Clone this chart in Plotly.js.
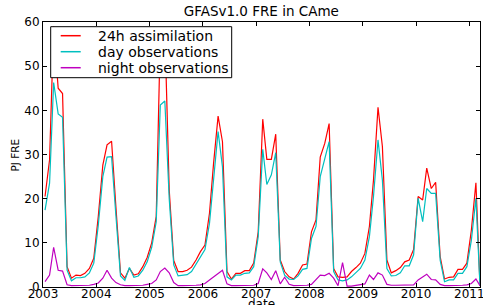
<!DOCTYPE html>
<html>
<head>
<meta charset="utf-8">
<script src="https://cdn.plot.ly/plotly-3.0.1.min.js"></script>
<style>html,body{margin:0;padding:0;background:#fff;}#chart{width:483px;height:305px;}</style>
</head>
<body>
<div id="chart"></div>
<script>
// Monthly series, Jan 2003 .. Mar 2011
const startYear = 2003;
const monthCount = 99;
const yearTicks = [2003, 2004, 2005, 2006, 2007, 2008, 2009, 2010, 2011];

const assimilation24h = [
  20.5, 28.8, 59.0, 45.0, 43.8, 4.6, 2.0, 2.7, 2.6, 3.1, 4.2, 6.5,
  16.0, 27.6, 32.2, 33.0, 18.0, 3.2, 2.0, 4.2, 2.7, 3.0, 4.6, 6.7,
  10.0, 16.0, 57.0, 58.5, 22.0, 6.0, 3.5, 3.5, 3.8, 4.5, 6.1, 8.0,
  9.5, 16.7, 28.0, 38.7, 32.9, 3.5, 1.8, 3.1, 3.1, 3.7, 3.7, 5.4,
  12.5, 38.0, 28.9, 28.9, 34.6, 6.1, 3.5, 2.3, 1.8, 3.1, 5.0, 5.2,
  12.5, 15.2, 29.4, 32.5, 37.0, 4.2, 2.3, 2.2, 2.3, 3.5, 4.4, 5.4,
  7.6, 13.7, 24.2, 40.7, 31.8, 6.1, 3.2, 3.7, 4.4, 5.7, 6.1, 8.5,
  20.5, 19.7, 26.9, 22.3, 23.7, 6.9, 1.8, 2.2, 2.3, 4.0, 4.0, 5.4,
  12.9, 23.6, 0.3
];
const dayObservations = [
  17.4, 23.5, 46.3, 39.2, 38.4, 3.8, 1.4, 2.1, 2.1, 2.3, 3.2, 5.4,
  14.0, 25.0, 29.4, 29.5, 16.0, 2.5, 1.5, 4.4, 2.2, 2.5, 3.8, 5.7,
  9.0, 14.8, 41.2, 42.1, 20.0, 5.0, 2.5, 2.6, 2.8, 3.5, 5.2, 7.0,
  8.5, 14.4, 24.2, 35.2, 27.2, 2.3, 1.6, 2.7, 2.7, 3.1, 3.2, 4.6,
  11.4, 31.2, 23.2, 25.4, 30.4, 5.7, 2.7, 1.8, 1.7, 2.5, 4.0, 4.2,
  11.0, 13.7, 25.0, 29.1, 32.9, 3.5, 1.6, 1.4, 1.6, 2.3, 3.2, 4.2,
  6.1, 11.4, 20.5, 33.3, 24.2, 4.2, 2.5, 2.6, 3.2, 4.8, 4.8, 7.3,
  20.1, 14.8, 22.3, 21.2, 21.2, 6.1, 1.2, 1.6, 1.6, 3.1, 3.1, 4.6,
  10.6, 20.1, 0.2
];
const nightObservations = [
  1.2, 2.7, 9.0, 3.8, 3.6, 0.5, 0.3, 0.3, 0.3, 0.3, 0.4, 0.6,
  0.9, 2.0, 3.8, 2.0, 1.0, 0.5, 0.3, 0.3, 0.3, 0.3, 0.4, 0.6,
  0.8, 1.6, 3.5, 4.3, 3.2, 1.0, 0.3, 0.3, 0.3, 0.3, 0.4, 0.5,
  0.8, 1.6, 2.3, 3.2, 3.8, 0.7, 0.3, 0.3, 0.3, 0.3, 0.3, 0.4,
  0.8, 4.1, 3.2, 1.7, 3.7, 0.7, 2.2, 0.6, 0.3, 0.3, 0.3, 0.4,
  0.6, 1.6, 2.7, 2.6, 3.1, 2.0, 0.3, 5.5, 0.2, 0.2, 0.4, 0.5,
  0.7, 2.7, 1.7, 3.2, 2.7, 0.6, 0.4, 0.4, 0.4, 0.4, 0.4, 0.5,
  1.6, 2.2, 2.9, 1.7, 1.6, 0.6, 0.3, 0.3, 0.3, 0.4, 0.4, 0.5,
  0.8, 1.8, 0.3
];
const seriesNames = ['24h assimilation', 'day observations', 'night observations'];
const seriesColors = ['#ff0000', '#00bfbf', '#bf00bf'];

// mid-month date labels
const dates = [];
for (let k = 0; k < monthCount; k++) {
  const y = startYear + Math.floor(k / 12);
  const m = (k % 12) + 1;
  dates.push(y + '-' + String(m).padStart(2, '0') + '-15');
}

const allSeries = [assimilation24h, dayObservations, nightObservations];
const traces = allSeries.map((vals, s) => ({
  x: dates, y: vals, type: 'scatter', mode: 'lines',
  name: seriesNames[s],
  line: {color: seriesColors[s], width: 1.2}
}));

const axisCommon = {
  showline: true, linecolor: '#000', linewidth: 1, mirror: 'ticks',
  ticks: 'inside', ticklen: 4, tickwidth: 1, tickcolor: '#000',
  showgrid: false, zeroline: false, ticklabeloverflow: 'allow',
  tickfont: {family: 'DejaVu Sans', size: 12, color: '#000'}
};

// hand-drawn legend box (matplotlib style, compact rows)
const legBox = {x0: 0.0176, x1: 0.4318, y0: 0.7898, y1: 0.9823};
const legRowsY = [0.9483, 0.8879, 0.8275];
const shapes = [{
  type: 'rect', xref: 'paper', yref: 'paper',
  x0: legBox.x0, x1: legBox.x1, y0: legBox.y0, y1: legBox.y1,
  line: {color: '#000', width: 1}, fillcolor: '#fff', layer: 'above'
}];
const annotations = [];
seriesNames.forEach((nm, s) => {
  shapes.push({type: 'line', xref: 'paper', yref: 'paper',
    x0: 0.0405, x1: 0.0863, y0: legRowsY[s], y1: legRowsY[s],
    line: {color: seriesColors[s], width: 1.5}, layer: 'above'});
  annotations.push({xref: 'paper', yref: 'paper', x: 0.1213, y: legRowsY[s],
    xanchor: 'left', yanchor: 'middle', showarrow: false, text: nm,
    font: {family: 'DejaVu Sans', size: 14, color: '#000'}});
});
annotations.push({xref: 'paper', yref: 'paper', x: -0.0641, y: 0.5, textangle: -90,
  xanchor: 'center', yanchor: 'middle', showarrow: false, text: 'PJ FRE',
  font: {family: 'DejaVu Sans', size: 10.5, color: '#000'}});
annotations.push({xref: 'paper', yref: 'paper', x: 0.501, y: -0.064,
  xanchor: 'center', yanchor: 'middle', showarrow: false, text: 'date',
  font: {family: 'DejaVu Sans', size: 12, color: '#000'}});

const layout = {
  width: 483, height: 305,
  margin: {l: 43, r: 3, t: 22, b: 18},
  paper_bgcolor: '#fff', plot_bgcolor: '#fff',
  font: {family: 'DejaVu Sans', color: '#000'},
  title: {text: 'GFASv1.0 FRE in CAme', font: {family: 'DejaVu Sans', size: 13.5, color: '#000'},
          x: 0.541, xanchor: 'center', y: 0.962, yanchor: 'middle'},
  xaxis: Object.assign({}, axisCommon, {
    type: 'date',
    range: ['2003-01-01', '2011-03-15'],
    tickvals: yearTicks.map(y => y + '-01-01'),
    ticktext: yearTicks.map(String),
    ticklabelstandoff: -4
  }),
  yaxis: Object.assign({}, axisCommon, {
    range: [0, 60], dtick: 10, tick0: 0
  }),
  showlegend: false,
  shapes: shapes,
  annotations: annotations
};

Plotly.newPlot('chart', traces, layout, {displayModeBar: false, staticPlot: true});
</script>
</body>
</html>
